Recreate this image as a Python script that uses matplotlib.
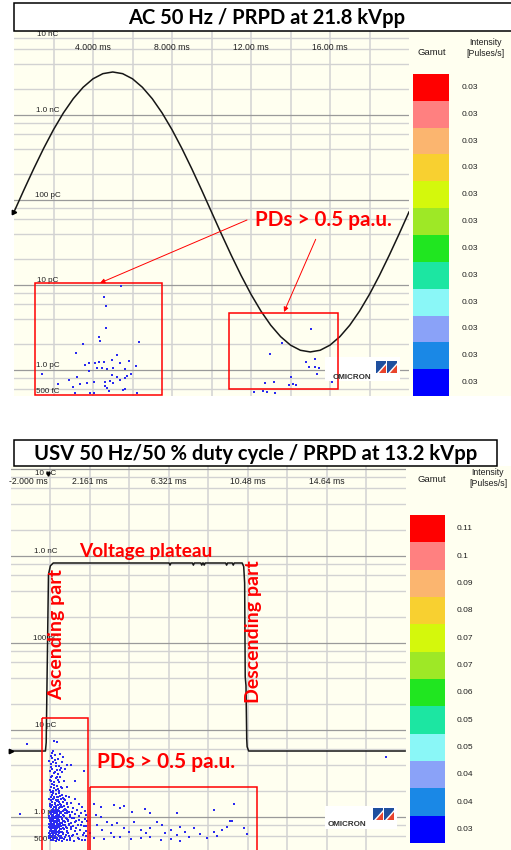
import numpy as np
import matplotlib.pyplot as plt
from matplotlib import transforms
from matplotlib.patches import Rectangle, Polygon

W, H = 511, 850
CREAM = '#FFFFF0'
GRID_LIGHT = '#D2D2D2'
GRID_DARK = '#9A9A9A'
DOT = '#2a2af0'
RED = '#FF0000'
BOLD_FONT = ['Lato', 'DejaVu Sans']
SMALL_FONT = ['Liberation Sans', 'DejaVu Sans']

# ---- shared y axis / gamut
charge_ticks = [10000, 1000, 100, 10, 1, 0.5]
charge_labels = ['10 nC', '1.0 nC', '100 pC', '10 pC', '1.0 pC', '500 fC']
gamut_colors = ['#FF0000', '#FF8080', '#FBB56F', '#F8D030', '#D4F80C', '#9EE826',
                '#20E620', '#1CE6A2', '#8AF7F7', '#8AA2F8', '#1A88E6', '#0000FF']

# ---- top chart: AC 50 Hz, 21.8 kVpp
ac_time_ms = [0.0, 0.5, 1.0, 1.5, 2.0, 2.5, 3.0, 3.5, 4.0, 4.5, 5.0, 5.5, 6.0, 6.5,
              7.0, 7.5, 8.0, 8.5, 9.0, 9.5, 10.0, 10.5, 11.0, 11.5, 12.0, 12.5, 13.0,
              13.5, 14.0, 14.5, 15.0, 15.5, 16.0, 16.5, 17.0, 17.5, 18.0, 18.5, 19.0,
              19.5, 20.0]
ac_kv = [0, 1.71, 3.37, 4.95, 6.41, 7.71, 8.82, 9.71, 10.37, 10.77, 10.9, 10.77,
         10.37, 9.71, 8.82, 7.71, 6.41, 4.95, 3.37, 1.71, 0, -1.71, -3.37, -4.95,
         -6.41, -7.71, -8.82, -9.71, -10.37, -10.77, -10.9, -10.77, -10.37, -9.71,
         -8.82, -7.71, -6.41, -4.95, -3.37, -1.71, 0]
ac_pds = [(5.40, 9.7), (4.56, 7.3), (4.66, 5.7), (4.66, 3.1), (4.32, 2.47), (4.35, 2.21),
          (3.51, 2.02), (6.35, 2.13), (3.14, 1.57), (5.20, 1.49), (3.81, 1.20), (4.10, 1.20),
          (4.32, 1.24), (4.56, 1.25), (4.95, 1.31), (5.37, 1.20), (5.84, 1.28), (6.18, 1.11),
          (3.60, 1.14), (4.19, 1.07), (4.44, 1.05), (4.73, 1.02), (5.03, 1.07), (5.60, 1.02),
          (3.81, 0.98), (4.95, 0.87), (5.20, 0.83), (5.70, 0.85), (5.90, 0.90), (5.64, 0.80),
          (2.80, 0.76), (3.17, 0.83), (3.34, 0.68), (3.68, 0.71), (4.07, 0.73), (4.61, 0.73),
          (4.86, 0.74), (5.00, 0.70), (2.97, 0.63), (4.61, 0.65), (4.73, 0.61), (4.83, 0.57),
          (5.37, 0.76), (5.50, 0.58), (5.62, 0.59), (2.24, 0.68), (3.85, 0.54), (4.05, 0.54),
          (3.09, 0.53), (6.21, 0.53), (1.40, 0.90),
          (15.04, 3.04), (13.55, 2.06), (12.96, 1.56), (15.24, 1.34), (14.77, 1.25),
          (14.95, 1.09), (15.24, 1.08), (15.44, 1.05), (15.33, 0.89), (14.03, 0.83),
          (13.18, 0.73), (12.71, 0.70), (13.94, 0.67), (14.14, 0.69), (14.28, 0.67),
          (12.17, 0.55), (12.62, 0.57), (13.22, 0.53), (16.08, 0.72), (12.80, 0.55)]
ac_xticks = [4, 8, 12, 16]
ac_xtick_labels = ['4.000 ms', '8.000 ms', '12.00 ms', '16.00 ms']
ac_gamut_labels = ['0.03'] * 12

# ---- bottom chart: USV 50 Hz / 50 % duty cycle, 13.2 kVpp
usv_time_ms = [-1.95, -0.16, -0.12, 0.0, 0.1, 0.25, 6.35, 6.40, 6.45, 7.58, 7.63, 7.68,
               8.02, 8.07, 8.12, 8.15, 8.20, 8.25, 9.33, 9.38, 9.43, 9.68, 9.73, 9.78,
               10.20, 10.28, 10.33, 10.36, 10.40, 10.44, 10.46, 10.54, 18.78]
usv_kv = [-6.6, -6.6, -6.0, 5.8, 6.4, 6.6, 6.6, 6.45, 6.6, 6.6, 6.45, 6.6,
          6.6, 6.45, 6.6, 6.6, 6.45, 6.6, 6.6, 6.45, 6.6, 6.6, 6.45, 6.6,
          6.6, 6.35, 5.2, -1.4, -2.0, -5.8, -6.3, -6.6, -6.6]
usv_pds = [
    # sparse upper part of the rising-edge cluster
    (0.29, 7.5), (0.46, 7.3), (0.11, 5.0), (0.20, 4.8), (0.33, 5.1), (0.50, 4.7), (0.62, 5.3),
    (0.75, 4.9), (0.15, 4.1), (0.40, 4.2), (0.55, 3.9), (0.70, 4.3), (0.99, 4.0), (1.16, 4.0),
    (0.20, 3.6), (0.46, 3.5), (0.64, 3.7), (0.85, 3.6), (0.29, 3.2), (0.50, 3.1), (0.70, 3.3),
    (0.11, 2.9), (0.37, 2.8), (0.60, 2.9), (0.80, 2.6), (1.86, 3.4), (0.20, 2.4), (0.46, 2.3),
    (0.29, 2.15), (0.64, 2.2), (0.99, 2.2), (0.15, 2.6), (0.55, 2.5), (1.40, 2.6), (0.08, 3.4),
    (0.36, 4.5), (0.52, 2.7), (0.24, 5.8),
    (0.06, 2.05), (0.14, 2.2), (0.22, 1.98), (0.30, 2.35), (0.38, 2.05), (0.48, 2.1), (0.58, 2.0),
    (0.72, 2.15), (0.09, 2.7), (0.18, 3.0), (0.27, 2.55), (0.35, 3.3), (0.44, 2.9), (0.60, 3.5),
    (0.12, 3.8), (0.26, 4.3), (0.40, 3.9), (0.16, 5.5), (0.05, 4.4),
    # middle
    (0.11, 1.95), (0.25, 1.9), (0.40, 1.85), (0.55, 1.9), (0.70, 1.8), (0.90, 1.75), (0.15, 1.7),
    (0.30, 1.65), (0.50, 1.7), (0.65, 1.6), (0.80, 1.62), (1.10, 1.7), (1.40, 1.6), (0.20, 1.5),
    (0.35, 1.45), (0.45, 1.52), (0.60, 1.4), (0.75, 1.48), (0.95, 1.42), (1.20, 1.45), (1.60, 1.4),
    (0.10, 1.35), (0.28, 1.3), (0.42, 1.33), (0.58, 1.28), (0.72, 1.3), (0.88, 1.25), (1.05, 1.32),
    (1.30, 1.28), (1.75, 1.3), (0.18, 1.2), (0.33, 1.18), (0.50, 1.22), (0.65, 1.15), (0.80, 1.2),
    (1.00, 1.17), (1.25, 1.15), (1.50, 1.2), (1.90, 1.18), (0.12, 1.1), (0.27, 1.12), (0.44, 1.08),
    (0.60, 1.1), (0.78, 1.06), (0.95, 1.1), (1.15, 1.05), (1.40, 1.08), (1.70, 1.1), (2.00, 1.06),
    (0.07, 1.42), (0.14, 1.3), (0.20, 1.38), (0.26, 1.25), (0.32, 1.4), (0.38, 1.28), (0.48, 1.36),
    (0.54, 1.47), (0.62, 1.3), (0.68, 1.38), (0.84, 1.35), (1.00, 1.45), (0.05, 1.62), (0.12, 1.55),
    (0.18, 1.78), (0.24, 1.6), (0.31, 1.72), (0.37, 1.55), (0.44, 1.68), (0.52, 1.58), (0.60, 1.75),
    (0.75, 1.65), (0.88, 1.58), (0.06, 1.15), (0.13, 1.07), (0.19, 1.13), (0.24, 1.05), (0.30, 1.17),
    (0.36, 1.1), (0.41, 1.2), (0.47, 1.13), (0.53, 1.05), (0.57, 1.17), (0.68, 1.1), (0.74, 1.18),
    (0.85, 1.12), (0.92, 1.2), (1.08, 1.13),
    # dense lower part
    (0.05, 1.02), (0.12, 0.98), (0.18, 1.03), (0.24, 0.95), (0.31, 1.0), (0.38, 0.97), (0.44, 1.04),
    (0.52, 0.96), (0.60, 1.01), (0.71, 0.98), (0.83, 1.03), (0.97, 0.95), (1.14, 1.0), (1.35, 0.97),
    (1.62, 1.02), (1.90, 0.96), (0.07, 0.92), (0.15, 0.88), (0.21, 0.93), (0.27, 0.86), (0.34, 0.91),
    (0.41, 0.87), (0.47, 0.93), (0.55, 0.89), (0.63, 0.85), (0.74, 0.91), (0.86, 0.87), (1.02, 0.9),
    (1.20, 0.86), (1.45, 0.9), (1.75, 0.87), (2.02, 0.91), (0.04, 0.83), (0.10, 0.79), (0.17, 0.84),
    (0.23, 0.78), (0.29, 0.82), (0.36, 0.77), (0.43, 0.81), (0.50, 0.78), (0.58, 0.83), (0.67, 0.79),
    (0.79, 0.82), (0.92, 0.77), (1.08, 0.8), (1.28, 0.78), (1.55, 0.81), (1.85, 0.79), (0.06, 0.74),
    (0.13, 0.71), (0.19, 0.75), (0.26, 0.7), (0.33, 0.73), (0.40, 0.69), (0.46, 0.74), (0.54, 0.7),
    (0.62, 0.72), (0.72, 0.68), (0.84, 0.73), (0.99, 0.7), (1.17, 0.72), (1.40, 0.69), (1.68, 0.71),
    (1.98, 0.7), (0.03, 0.66), (0.09, 0.63), (0.16, 0.67), (0.22, 0.62), (0.28, 0.65), (0.35, 0.61),
    (0.42, 0.66), (0.49, 0.62), (0.57, 0.65), (0.66, 0.61), (0.77, 0.64), (0.90, 0.62), (1.05, 0.65),
    (1.25, 0.61), (1.50, 0.64), (1.80, 0.62), (0.05, 0.58), (0.11, 0.55), (0.18, 0.59), (0.25, 0.54),
    (0.32, 0.57), (0.39, 0.53), (0.45, 0.58), (0.53, 0.55), (0.61, 0.57), (0.70, 0.53), (0.82, 0.56),
    (0.95, 0.54), (1.12, 0.57), (1.32, 0.53), (1.60, 0.56), (1.92, 0.54),
    (0.02, 0.61), (0.08, 0.69), (0.14, 0.6), (0.21, 0.66), (0.26, 0.58), (0.30, 0.69), (0.37, 0.64),
    (0.43, 0.56), (0.48, 0.67), (0.56, 0.6), (0.64, 0.68), (0.69, 0.58), (0.76, 0.66), (0.88, 0.59),
    (1.00, 0.67), (1.10, 0.6), (0.03, 0.77), (0.09, 0.84), (0.14, 0.76), (0.20, 0.81), (0.25, 0.74),
    (0.31, 0.86), (0.37, 0.79), (0.42, 0.72), (0.47, 0.85), (0.53, 0.76), (0.59, 0.8), (0.65, 0.73),
    (0.70, 0.86), (0.77, 0.75), (0.87, 0.81), (0.96, 0.74), (1.06, 0.84), (1.18, 0.77), (0.04, 0.97),
    (0.10, 0.9), (0.16, 1.0), (0.22, 0.89), (0.28, 0.97), (0.33, 0.88), (0.39, 1.02), (0.45, 0.9),
    (0.51, 0.99), (0.57, 0.92), (0.65, 1.0), (0.73, 0.94), (0.80, 0.89), (0.90, 0.98), (1.04, 0.93),
    (1.22, 0.98), (1.30, 0.62), (1.45, 0.75), (1.55, 0.58), (1.70, 0.82), (1.85, 0.66), (2.00, 0.6),
    (1.38, 0.88), (1.62, 0.93), (1.95, 0.78), (1.15, 0.55), (1.75, 0.55),
    # plateau region
    (2.39, 1.40), (2.78, 1.31), (3.44, 1.37), (3.76, 1.26), (3.97, 1.35), (5.06, 1.24), (5.34, 1.10),
    (4.41, 1.15), (6.78, 1.12), (8.71, 1.20), (9.76, 1.40), (9.58, 0.90), (2.48, 1.05), (2.74, 1.01),
    (3.09, 0.88), (3.36, 0.81), (3.62, 0.85), (3.97, 0.74), (4.23, 0.68), (4.50, 0.87), (4.85, 0.71),
    (5.11, 0.65), (5.37, 0.74), (5.72, 0.88), (5.99, 0.81), (6.16, 0.65), (6.43, 0.71), (6.78, 0.62),
    (6.95, 0.77), (7.21, 0.68), (7.39, 0.59), (7.65, 0.74), (8.00, 0.63), (8.36, 0.57), (8.71, 0.68),
    (8.88, 0.61), (9.14, 0.71), (9.41, 0.77), (9.67, 0.90), (10.29, 0.74), (10.46, 0.63), (2.57, 0.81),
    (2.83, 0.71), (3.27, 0.65), (3.79, 0.59), (4.32, 0.56), (4.85, 0.57), (5.37, 0.59), (5.90, 0.54),
    (6.43, 0.56), (6.95, 0.53), (2.21, 0.65), (2.39, 0.57), (2.92, 0.56), (3.44, 0.59),
    # outliers
    (-1.50, 1.07), (-1.15, 7.0), (17.77, 4.9)]
usv_xticks = [-2.0, 2.161, 6.321, 10.48, 14.64]
usv_xtick_labels = ['-2.000 ms', '2.161 ms', '6.321 ms', '10.48 ms', '14.64 ms']
usv_gamut_labels = ['0.11', '0.1', '0.09', '0.08', '0.07', '0.07',
                    '0.06', '0.05', '0.05', '0.04', '0.04', '0.03']

fig = plt.figure(figsize=(W / 100, H / 100), dpi=100)


def frac(x0, y0, x1, y1):
    return [x0 / W, 1 - y1 / H, (x1 - x0) / W, (y1 - y0) / H]


# pixel-coordinate layers below and above the charts
under = fig.add_axes([0, 0, 1, 1], zorder=-1)
under.set_xlim(0, W)
under.set_ylim(H, 0)
under.axis('off')
over = fig.add_axes([0, 0, 1, 1], zorder=5)
over.set_xlim(0, W)
over.set_ylim(H, 0)
over.axis('off')


def title_box(x0, y0, x1, y1, text, size):
    over.add_patch(Rectangle((x0, y0), x1 - x0, y1 - y0, facecolor='white',
                             edgecolor='black', lw=1.1, clip_on=False))
    over.text((x0 + x1) / 2, (y0 + y1) / 2 + 0.5, text, ha='center', va='center',
              fontsize=size, fontweight='bold', family=BOLD_FONT)


def prpd_axes(box, xlim, ylim, grid_x, ticks, tick_labels, tick_y, label_x, label_xs, top_dy):
    ax = fig.add_axes(frac(*box))
    ax.set_facecolor(CREAM)
    ax.set_yscale('log')
    ax.set_xlim(xlim)
    ax.set_ylim(ylim)
    for s in ax.spines.values():
        s.set_visible(False)
    ax.tick_params(which='both', left=False, bottom=False, labelleft=False, labelbottom=False)
    for g in grid_x:
        ax.axvline(g, color=GRID_LIGHT, lw=1.1, zorder=0)
    for e in range(-1, 5):
        for m in (2, 4, 6, 8):
            ax.axhline(m * 10.0 ** e, color=GRID_LIGHT, lw=1.0, zorder=0)
        ax.axhline(10.0 ** e, color=GRID_DARK, lw=0.9, zorder=0.5)
    lab_tr = transforms.blended_transform_factory(over.transData, ax.transData)
    for val, lab in zip(charge_ticks, charge_labels):
        dy = top_dy if val == charge_ticks[0] else 3
        ax.annotate(lab, (label_x, val), xycoords=lab_tr, xytext=(0, dy),
                    textcoords='offset points', ha='center', va='center',
                    fontsize=5.8, family=SMALL_FONT, color='#202020', zorder=1)
    tick_tr = transforms.blended_transform_factory(ax.transData, over.transData)
    for t, lab, lx in zip(ticks, tick_labels, label_xs):
        ax.text(t if lx is None else lx, tick_y, lab, transform=tick_tr if lx is None else over.transData,
                ha='center' if lx is None else 'left', va='center',
                fontsize=6.2, family=SMALL_FONT, color='#202020', zorder=1, clip_on=False)
    return ax


def wave_axes(box, xlim, vlim, t, v):
    axw = fig.add_axes(frac(*box))
    axw.set_xlim(xlim)
    axw.set_ylim(vlim)
    axw.axis('off')
    axw.plot(t, v, color='#161616', lw=1.1)
    axw.plot(t[0], v[0], marker='>', ms=3.2, color='black', clip_on=False)
    return axw


def gamut(box, labels, label_x, gamut_xy, inten_xy):
    axc = fig.add_axes(frac(*box))
    n = len(gamut_colors)
    axc.barh(np.arange(n), np.ones(n), height=1.0, align='edge', color=gamut_colors[::-1])
    axc.set_xlim(0, 1)
    axc.set_ylim(0, n)
    axc.axis('off')
    tr = transforms.blended_transform_factory(over.transData, axc.transData)
    for i, lab in enumerate(labels):
        axc.text(label_x, n - i - 0.5, lab, transform=tr, ha='left', va='center',
                 fontsize=6, family=SMALL_FONT, color='#202020', clip_on=False)
    over.text(gamut_xy[0], gamut_xy[1], 'Gamut', ha='center', va='center',
              fontsize=6.8, family=SMALL_FONT, color='#202020')
    over.text(inten_xy[0], inten_xy[1], 'Intensity\n[Pulses/s]', ha='center', va='center',
              fontsize=6.3, family=SMALL_FONT, color='#202020', linespacing=1.25)


def omicron(box, text_xy, icon_x, icon_y):
    x0, y0, x1, y1 = box
    over.add_patch(Rectangle((x0, y0), x1 - x0, y1 - y0, facecolor='white', edgecolor='none'))
    over.text(text_xy[0], text_xy[1], 'OMICRON', ha='left', va='center', fontsize=5.8,
              fontweight='bold', family=SMALL_FONT, color='#303030')
    for k in range(2):
        ix = icon_x + k * 11
        over.add_patch(Polygon([(ix, icon_y), (ix + 10, icon_y), (ix + 10, icon_y + 2),
                                (ix + 1, icon_y + 12), (ix, icon_y + 12)],
                               facecolor='#1f4f9e', edgecolor='none'))
        over.add_patch(Polygon([(ix + 10, icon_y + 4), (ix + 10, icon_y + 12),
                                (ix + 3, icon_y + 12)], facecolor='#e8442c', edgecolor='none'))


def red_box(x0, y0, x1, y1):
    over.add_patch(Rectangle((x0, y0), x1 - x0, y1 - y0, facecolor='none',
                             edgecolor=RED, lw=1.1, clip_on=False))


def red_text(x, y, s, size, rot=0):
    over.text(x, y, s, ha='center', va='center', rotation=rot, color=RED,
              fontsize=size, fontweight='bold', family=BOLD_FONT)


def red_arrow(x0, y0, x1, y1):
    over.annotate('', xy=(x1, y1), xytext=(x0, y0),
                  arrowprops=dict(arrowstyle='-|>', color=RED, lw=0.7, mutation_scale=7,
                                  shrinkA=0, shrinkB=0))


# ---------------- top chart ----------------
under.add_patch(Rectangle((14, 31), W - 14, 365, facecolor=CREAM, edgecolor='none'))
title_box(14, 3, 520, 31, 'AC 50 Hz / PRPD at 21.8 kVpp', 14.5)
top_box = (14, 30, 409, 395.6)
ax1 = prpd_axes(top_box, (0, 20), (0.5, 10000), np.arange(2, 20, 2),
                ac_xticks, ac_xtick_labels, 47.5, 48, [None] * 4, -3.5)
pts = np.array(ac_pds)
ax1.scatter(pts[:, 0], pts[:, 1], s=2.2, marker='s', color=DOT, linewidths=0, zorder=2)
wave_axes(top_box, (0, 20), (-14.3, 14.17), ac_time_ms, ac_kv)
gamut((413, 74, 449, 396), ac_gamut_labels, 462, (432, 52), (485, 48))
omicron((325, 357, 400, 381), (333, 377), 376, 361)
red_box(35, 283, 162, 395)
red_box(229, 313, 338, 389)
red_text(323.5, 220, 'PDs > 0.5 pa.u.', 14.9)
red_arrow(247, 220, 100, 283)
red_arrow(315.7, 239.3, 284, 312)

# ---------------- bottom chart ----------------
under.add_patch(Rectangle((11, 466), W - 11, H - 466, facecolor=CREAM, edgecolor='none'))
title_box(14, 440, 497, 466, 'USV 50 Hz/50 % duty cycle / PRPD at 13.2 kVpp', 14.6)
bot_box = (10.5, 466, 405.5, 850)
ax2 = prpd_axes(bot_box, (-2.0, 18.8), (0.418, 10820), np.arange(0.08, 18.8, 2.0803),
                usv_xticks, usv_xtick_labels, 481.5, 46, [9] + [None] * 4, -3.5)
pts = np.array(usv_pds)
ax2.scatter(pts[:, 0], pts[:, 1], s=2.2, marker='s', color=DOT, linewidths=0, zorder=2)
wave_axes(bot_box, (-2.0, 18.8), (-13.55, 13.41), usv_time_ms, usv_kv)
over.plot([48.3], [474], marker='v', ms=2.5, color='black')
gamut((410, 515, 445, 843), usv_gamut_labels, 457, (432, 479), (488, 478))
omicron((325, 806, 397, 829), (328, 825), 373, 808)
red_box(42, 718, 88, 856)
red_box(90, 787, 257, 856)
red_text(145.5, 552, 'Voltage plateau', 13.7)
red_text(57, 635, 'Ascending part', 14, rot=90)
red_text(253, 632, 'Descending part', 14, rot=90)
red_text(166, 762, 'PDs > 0.5 pa.u.', 15)

fig.savefig('out.png', dpi=100, facecolor='white')
